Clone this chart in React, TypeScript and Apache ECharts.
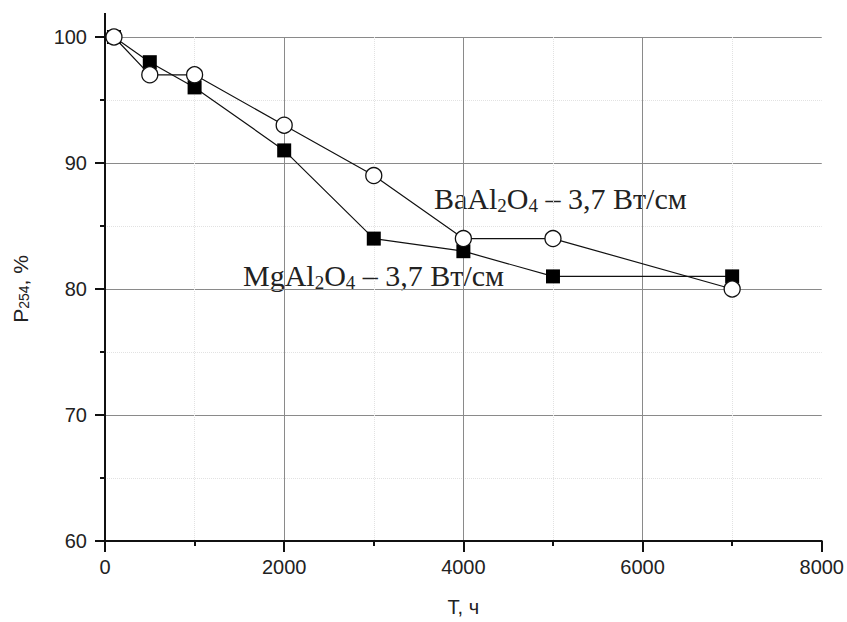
import React, { useEffect, useRef } from "react";
import * as echarts from "echarts";

const hours = [100, 500, 1000, 2000, 3000, 4000, 5000, 7000];
const baAl2O4 = [100, 97, 97, 93, 89, 84, 84, 80];
const mgAl2O4 = [100, 98, 96, 91, 84, 83, 81, 81];
const xTicks = [0, 2000, 4000, 6000, 8000];
const yTicks = [60, 70, 80, 90, 100];

export default function App() {
  const ref = useRef<HTMLDivElement>(null);
  useEffect(() => {
    const chart = echarts.init(ref.current!, null, { renderer: "svg" });
    const labelFont = "Liberation Sans, Arial, sans-serif";
    const serif = "Liberation Serif, Times New Roman, serif";
    const subStyle = { fontFamily: serif, fontSize: 19, fill: "#222", verticalAlign: "bottom", lineHeight: 21 };
    chart.setOption({
      animation: false,
      backgroundColor: "#fff",
      grid: { left: 105, right: 25, top: 37, bottom: 81 },
      xAxis: {
        type: "value",
        min: xTicks[0],
        max: xTicks[xTicks.length - 1],
        interval: 2000,
        name: "T, ч",
        nameLocation: "middle",
        nameGap: 56,
        nameTextStyle: { fontFamily: labelFont, fontSize: 20, color: "#222" },
        axisLine: { show: true, onZero: false, lineStyle: { color: "#111", width: 2 } },
        axisTick: { show: true, inside: false, length: 11, lineStyle: { color: "#111", width: 2 } },
        minorTick: { show: true, splitNumber: 2, length: 5, lineStyle: { color: "#111", width: 2 } },
        axisLabel: { fontFamily: labelFont, fontSize: 20, color: "#222", margin: 16, formatter: (v: number) => String(v) },
        splitLine: { show: true, showMaxLine: false, lineStyle: { color: "#8a8a8a", width: 1 } },
        minorSplitLine: { show: true, lineStyle: { color: "#e2e2e2", width: 1, type: "dotted" } },
      },
      yAxis: {
        type: "value",
        min: yTicks[0],
        max: yTicks[yTicks.length - 1],
        interval: 10,
        name: "P{sub|254}, %",
        nameLocation: "middle",
        nameGap: 74,
        nameTextStyle: {
          fontFamily: labelFont,
          fontSize: 21,
          color: "#222",
          rich: {
            sub: { fontFamily: labelFont, fontSize: 14, color: "#222", verticalAlign: "bottom", lineHeight: 14, padding: [8, 0, 0, 0] },
          },
        },
        axisLine: { show: true, onZero: false, lineStyle: { color: "#111", width: 2 } },
        axisTick: { show: true, inside: false, length: 10, lineStyle: { color: "#111", width: 2 } },
        minorTick: { show: true, splitNumber: 2, length: 5, lineStyle: { color: "#111", width: 2 } },
        axisLabel: { fontFamily: labelFont, fontSize: 20, color: "#222", margin: 18 },
        splitLine: { show: true, lineStyle: { color: "#8a8a8a", width: 1 } },
        minorSplitLine: { show: true, lineStyle: { color: "#e2e2e2", width: 1, type: "dotted" } },
      },
      graphic: [
        { type: "line", shape: { x1: 105, y1: 13, x2: 105, y2: 38 }, style: { stroke: "#111", lineWidth: 2 } },
        {
          type: "text",
          left: 434,
          top: 181,
          style: {
            text: "BaAl{sub|2}O{sub|4} – 3,7 Вт/см",
            fontFamily: serif,
            fontSize: 30,
            lineHeight: 34,
            fill: "#222",
            rich: { sub: subStyle },
          },
        },
        {
          type: "text",
          left: 243,
          top: 258,
          style: {
            text: "MgAl{sub|2}O{sub|4} – 3,7 Вт/см",
            fontFamily: serif,
            fontSize: 30,
            lineHeight: 34,
            fill: "#222",
            rich: { sub: subStyle },
          },
        },
      ],
      series: [
        {
          name: "MgAl2O4",
          type: "line",
          data: hours.map((h, i) => [h, mgAl2O4[i]]),
          symbol: "rect",
          symbolSize: 14,
          lineStyle: { color: "#111", width: 1.2 },
          itemStyle: { color: "#000", borderColor: "#000", borderWidth: 0 },
          z: 3,
        },
        {
          name: "BaAl2O4",
          type: "line",
          data: hours.map((h, i) => [h, baAl2O4[i]]),
          symbol: "circle",
          symbolSize: 16,
          showAllSymbol: true,
          lineStyle: { color: "#111", width: 1.2 },
          itemStyle: { color: "#fff", borderColor: "#111", borderWidth: 1.3 },
          z: 4,
        },
      ],
    });
    return () => chart.dispose();
  }, []);
  return (
    <div
      ref={ref}
      style={{ position: "fixed", left: 0, top: 0, width: 847, height: 622, background: "#fff" }}
    />
  );
}
